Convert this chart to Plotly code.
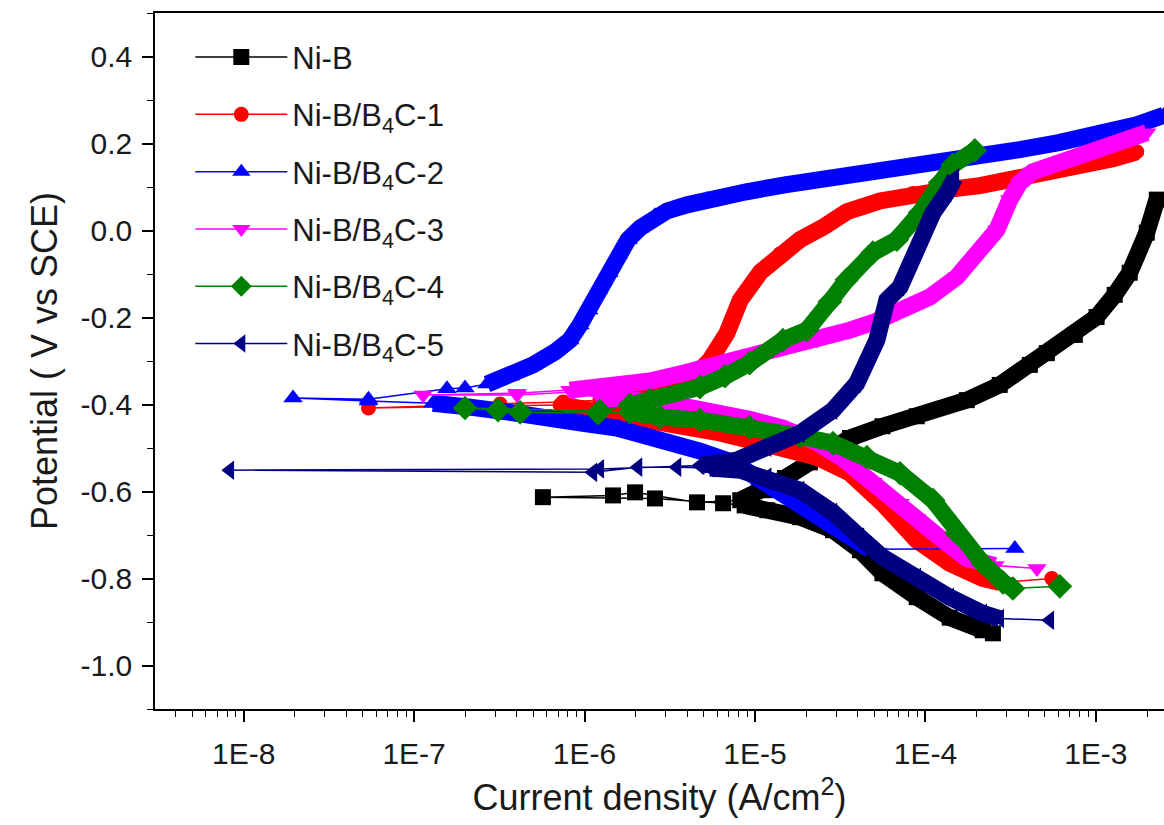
import plotly.graph_objects as go

# ---------------- data (current density A/cm2, potential V vs SCE) ----------------
# Ni-B
NIB_END_I = [2.49e-4]
NIB_END_E = [-0.926]
NIB_CATH_I = [2.17e-4, 1.39e-4, 8.9e-5, 5.6e-5, 4.13e-5, 2.87e-5, 1.84e-5, 1.18e-5, 8.7e-6]
NIB_CATH_E = [-0.919, -0.890, -0.843, -0.788, -0.735, -0.689, -0.659, -0.643, -0.632]
NIB_MID_I = [6.5e-6, 2.59e-6, 5.7e-7, 1.47e-6, 1.98e-6, 4.57e-6]
NIB_MID_E = [-0.627, -0.616, -0.613, -0.609, -0.602, -0.625]
NIB_ANOD_I = [8.2e-6, 1.15e-5, 1.50e-5, 2.10e-5, 2.87e-5, 3.61e-5, 5.6e-5, 8.9e-5, 1.75e-4,
              2.73e-4, 4.10e-4, 5.16e-4, 7.53e-4, 1.01e-3, 1.29e-3, 1.58e-3, 1.99e-3, 2.28e-3]
NIB_ANOD_E = [-0.620, -0.597, -0.569, -0.533, -0.498, -0.477, -0.450, -0.427, -0.390,
              -0.355, -0.309, -0.282, -0.240, -0.199, -0.148, -0.097, -0.005, 0.071]

# Ni-B/B4C-1
C1_END_I = [5.52e-4]
C1_END_E = [-0.800]
C1_CATH_I = [2.73e-4, 2.17e-4, 1.39e-4, 8.9e-5, 5.6e-5, 3.61e-5, 2.31e-5, 1.46e-5, 9.3e-6,
             5.98e-6, 3.78e-6, 2.12e-6, 1.23e-6, 7.2e-7]
C1_CATH_E = [-0.809, -0.800, -0.765, -0.712, -0.627, -0.558, -0.521, -0.498, -0.482,
             -0.464, -0.450, -0.431, -0.413, -0.401]
C1_MID_I = [5.4e-8, 3.2e-7, 7.5e-7]
C1_MID_E = [-0.408, -0.399, -0.394]
C1_ANOD_I = [1.23e-6, 2.33e-6, 3.17e-6, 4.16e-6, 5.45e-6, 6.85e-6, 8.2e-6, 1.08e-5, 1.40e-5,
             1.84e-5, 2.54e-5, 3.46e-5, 5.41e-5, 8.45e-5, 1.34e-4, 2.09e-4, 3.26e-4, 5.16e-4,
             8.05e-4, 1.26e-3, 1.74e-3]
C1_ANOD_E = [-0.390, -0.371, -0.364, -0.344, -0.298, -0.236, -0.160, -0.095, -0.054,
             -0.021, 0.009, 0.043, 0.068, 0.085, 0.094, 0.103, 0.117, 0.133,
             0.149, 0.165, 0.181]

# Ni-B/B4C-2
C2_END_I = [3.35e-4]
C2_END_E = [-0.731]
C2_CATH_I = [4.72e-5, 3.61e-5, 2.41e-5, 1.60e-5, 1.07e-5, 7.43e-6, 4.76e-6, 3.78e-6, 2.42e-6,
             1.55e-6, 9.8e-7, 6.3e-7, 3.66e-7, 2.13e-7, 1.29e-7]
C2_CATH_E = [-0.733, -0.705, -0.655, -0.611, -0.576, -0.533, -0.507, -0.496, -0.477,
             -0.454, -0.443, -0.429, -0.418, -0.406, -0.397]
C2_MID_I = [5.4e-8, 1.95e-8, 5.4e-8, 1.56e-7, 1.99e-7]
C2_MID_E = [-0.392, -0.385, -0.388, -0.364, -0.362]
C2_ANOD_I = [2.68e-7, 3.66e-7, 4.99e-7, 6.71e-7, 8.2e-7, 9.4e-7, 1.06e-6, 1.20e-6, 1.39e-6,
             1.57e-6, 1.80e-6, 2.12e-6, 2.59e-6, 3.05e-6, 3.99e-6, 5.23e-6, 8.9e-6, 1.50e-5,
             2.54e-5, 4.30e-5, 7.28e-5, 1.25e-4, 2.12e-4, 3.58e-4, 6.07e-4, 1.03e-3, 1.74e-3,
             2.51e-3]
C2_ANOD_E = [-0.353, -0.335, -0.309, -0.279, -0.252, -0.217, -0.183, -0.137, -0.097,
             -0.056, -0.021, 0.006, 0.034, 0.045, 0.059, 0.071, 0.089, 0.105,
             0.117, 0.128, 0.140, 0.156, 0.170, 0.186, 0.202, 0.220, 0.243,
             0.265]

# Ni-B/B4C-3
C3_END_I = [4.51e-4]
C3_END_E = [-0.777]
C3_CATH_I = [2.56e-4, 1.75e-4, 1.27e-4, 8.9e-5, 7.1e-5, 4.92e-5, 3.37e-5, 2.31e-5, 1.46e-5,
             9.3e-6, 5.98e-6, 3.78e-6, 2.12e-6, 1.23e-6]
C3_CATH_E = [-0.770, -0.754, -0.712, -0.662, -0.627, -0.579, -0.528, -0.487, -0.454,
             -0.434, -0.418, -0.404, -0.392, -0.385]
C3_MID_I = [8.6e-7, 4.02e-7, 1.13e-7, 4.02e-7]
C3_MID_E = [-0.371, -0.378, -0.378, -0.374]
C3_ANOD_I = [8.2e-7, 1.55e-6, 2.42e-6, 3.78e-6, 5.98e-6, 9.3e-6, 1.46e-5, 2.31e-5, 3.61e-5,
             5.06e-5, 6.8e-5, 1.06e-4, 1.53e-4, 2.09e-4, 2.63e-4, 3.13e-4, 3.58e-4, 4.27e-4,
             6.4e-4, 1.01e-3, 1.58e-3, 1.99e-3]
C3_ANOD_E = [-0.367, -0.360, -0.346, -0.328, -0.309, -0.291, -0.270, -0.252, -0.229,
             -0.210, -0.190, -0.153, -0.107, -0.051, 0.002, 0.071, 0.110, 0.135,
             0.158, 0.186, 0.209, 0.225]

# Ni-B/B4C-4
C4_END_I = [6.15e-4]
C4_END_E = [-0.818]
C4_CATH_I = [3.26e-4, 2.85e-4, 2.17e-4, 1.53e-4, 1.11e-4, 7.1e-5, 4.54e-5, 2.87e-5, 1.84e-5,
             9.3e-6, 4.76e-6, 2.77e-6, 1.85e-6]
C4_CATH_E = [-0.823, -0.809, -0.765, -0.696, -0.620, -0.558, -0.521, -0.489, -0.473,
             -0.452, -0.436, -0.429, -0.418]
C4_MID_I = [1.20e-6, 4.19e-7, 3.11e-7, 1.99e-7, 1.23e-6]
C4_MID_E = [-0.420, -0.418, -0.413, -0.408, -0.415]
C4_ANOD_I = [1.85e-6, 2.42e-6, 4.76e-6, 6.67e-6, 9.3e-6, 1.46e-5, 2.02e-5, 2.75e-5, 3.46e-5,
             4.92e-5, 6.8e-5, 9.3e-5, 1.22e-4, 1.45e-4, 1.95e-4]
C4_ANOD_E = [-0.401, -0.390, -0.360, -0.335, -0.305, -0.252, -0.229, -0.164, -0.113,
             -0.051, -0.021, 0.041, 0.110, 0.151, 0.184]

# Ni-B/B4C-5
C5_END_I = [5.37e-4]
C5_END_E = [-0.896]
C5_CATH_I = [2.73e-4, 2.17e-4, 1.39e-4, 8.9e-5, 5.6e-5, 4.13e-5, 2.87e-5, 1.84e-5, 1.18e-5,
             8.2e-6, 5.45e-6]
C5_CATH_E = [-0.892, -0.880, -0.843, -0.797, -0.751, -0.705, -0.648, -0.597, -0.567,
             -0.551, -0.546]
C5_MID_I = [3.49e-6, 2.06e-6, 1.12e-6, 8.3e-9, 1.23e-6]
C5_MID_E = [-0.544, -0.544, -0.556, -0.551, -0.548]
C5_ANOD_I = [4.76e-6, 7.84e-6, 1.18e-5, 1.84e-5, 2.87e-5, 3.96e-5, 5.19e-5, 5.94e-5, 7.1e-5,
             8.45e-5, 9.3e-5, 1.11e-4, 1.34e-4, 1.49e-4]
C5_ANOD_E = [-0.540, -0.528, -0.498, -0.466, -0.413, -0.351, -0.252, -0.160, -0.130,
             -0.067, -0.021, 0.041, 0.087, 0.121]

NAMES = ["Ni-B", "Ni-B/B<sub>4</sub>C-1", "Ni-B/B<sub>4</sub>C-2",
         "Ni-B/B<sub>4</sub>C-3", "Ni-B/B<sub>4</sub>C-4", "Ni-B/B<sub>4</sub>C-5"]
COLORS = ["#000000", "#ff0000", "#0000ff", "#ff00ff", "#008000", "#000080"]
SYMBOLS = ["square", "circle", "triangle-up", "triangle-down", "diamond", "triangle-left"]
MSIZES = [16, 15, 17, 17, 19, 17]

XTICK_VALS = [1e-8, 1e-7, 1e-6, 1e-5, 1e-4, 1e-3]
XTICK_TEXT = ["1E-8", "1E-7", "1E-6", "1E-5", "1E-4", "1E-3"]
YTICK_VALS = [0.4, 0.2, 0.0, -0.2, -0.4, -0.6, -0.8, -1.0]
YTICK_TEXT = ["0.4", "0.2", "0.0", "-0.2", "-0.4", "-0.6", "-0.8", "-1.0"]

SERIES = [
    (NIB_END_I, NIB_END_E, NIB_CATH_I, NIB_CATH_E, NIB_MID_I, NIB_MID_E, NIB_ANOD_I, NIB_ANOD_E),
    (C1_END_I, C1_END_E, C1_CATH_I, C1_CATH_E, C1_MID_I, C1_MID_E, C1_ANOD_I, C1_ANOD_E),
    (C2_END_I, C2_END_E, C2_CATH_I, C2_CATH_E, C2_MID_I, C2_MID_E, C2_ANOD_I, C2_ANOD_E),
    (C3_END_I, C3_END_E, C3_CATH_I, C3_CATH_E, C3_MID_I, C3_MID_E, C3_ANOD_I, C3_ANOD_E),
    (C4_END_I, C4_END_E, C4_CATH_I, C4_CATH_E, C4_MID_I, C4_MID_E, C4_ANOD_I, C4_ANOD_E),
    (C5_END_I, C5_END_E, C5_CATH_I, C5_CATH_E, C5_MID_I, C5_MID_E, C5_ANOD_I, C5_ANOD_E),
]

FONT = "Liberation Sans, Arial, sans-serif"
BAND_W = 17

fig = go.Figure()
for k, (ei, ee, ci, ce, mi, me, ai, ae) in enumerate(SERIES):
    col = COLORS[k]
    for bi, be in ((ci, ce), (ai, ae)):
        fig.add_trace(go.Scatter(x=bi, y=be, mode="lines",
                                 line=dict(color=col, width=BAND_W),
                                 showlegend=False, hoverinfo="skip"))
    fig.add_trace(go.Scatter(
        x=ei + ci + mi + ai, y=ee + ce + me + ae,
        mode="lines+markers", name=NAMES[k], legendgroup=f"g{k}",
        line=dict(color=col, width=1.5),
        marker=dict(symbol=SYMBOLS[k], size=MSIZES[k], color=col, line=dict(width=0)),
    ))

x_minor = [m * 10.0 ** e for e in range(-9, -2) for m in range(2, 10)]
y_minor = [round(-1.1 + 0.1 * k, 1) for k in range(17)]

fig.update_layout(
    width=1164, height=825,
    margin=dict(l=155, r=0, t=13, b=116),
    paper_bgcolor="white", plot_bgcolor="white",
    font=dict(family=FONT, color="#1a1a1a"),
    legend=dict(x=0.035, y=0.975, xanchor="left", yanchor="top",
                bgcolor="rgba(0,0,0,0)", font=dict(size=31, family=FONT),
                tracegroupgap=14, itemwidth=92),
    xaxis=dict(type="log", range=[-8.52, -2.60], tickmode="array",
               tickvals=XTICK_VALS, ticktext=XTICK_TEXT,
               ticks="outside", ticklen=11, tickwidth=1.5, tickcolor="black",
               showline=True, linecolor="black", linewidth=1.5, mirror=True,
               showgrid=False, zeroline=False, automargin=False,
               minor=dict(tickvals=x_minor, ticks="outside", ticklen=6, tickwidth=1.2,
                          tickcolor="black", showgrid=False),
               tickfont=dict(size=30, family=FONT), ticklabelstandoff=6,
               title=dict(text="Current density (A/cm<sup>2</sup>)",
                          font=dict(size=36, family=FONT), standoff=16)),
    yaxis=dict(range=[-1.1, 0.5], tickmode="array",
               tickvals=YTICK_VALS, ticktext=YTICK_TEXT,
               ticks="outside", ticklen=11, tickwidth=1.5, tickcolor="black",
               showline=True, linecolor="black", linewidth=1.5, mirror=False,
               showgrid=False, zeroline=False, automargin=False,
               minor=dict(tickvals=y_minor, ticks="outside", ticklen=6, tickwidth=1.2,
                          tickcolor="black", showgrid=False),
               tickfont=dict(size=30, family=FONT), ticklabelstandoff=4,
               title=dict(text="Potential ( V vs SCE)",
                          font=dict(size=36, family=FONT), standoff=12)),
)

fig.write_html("out.html")
